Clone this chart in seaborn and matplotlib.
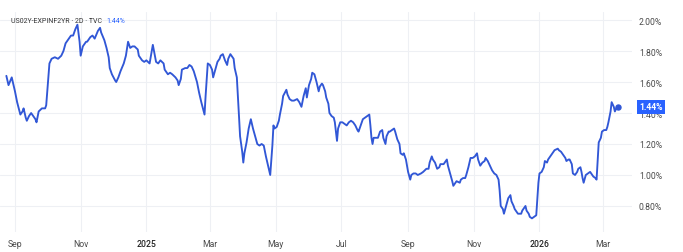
import matplotlib
matplotlib.use("Agg")
import pandas as pd
import matplotlib.pyplot as plt
import matplotlib.transforms as mtransforms
import seaborn as sns

# ---------------- data ----------------
start_date = "2024-09-01"
day_offsets = [
    -8, -6, -3, 0, 2, 5, 7, 8, 10, 11, 13, 15, 17, 19, 20, 22, 25, 28, 29, 32,
    34, 37, 40, 43, 45, 47, 49, 52, 54, 56, 58, 60, 61, 63, 66, 67, 70, 72, 74, 77,
    79, 80, 83, 85, 87, 88, 90, 93, 94, 96, 98, 101, 103, 105, 107, 109, 111, 114, 115, 118,
    120, 122, 125, 127, 128, 131, 133, 135, 138, 139, 142, 144, 146, 149, 151, 152, 154, 155, 158, 160,
    162, 164, 166, 169, 171, 173, 176, 177, 179, 181, 183, 184, 186, 188, 190, 191, 193, 195, 197, 198,
    200, 201, 203, 204, 206, 207, 208, 209, 211, 212, 213, 215, 217, 219, 221, 223, 225, 227, 229, 231,
    233, 235, 237, 239, 240, 241, 243, 245, 246, 248, 249, 252, 253, 255, 257, 259, 262, 264, 266, 268,
    270, 271, 273, 275, 276, 278, 280, 282, 283, 285, 286, 288, 289, 291, 292, 294, 296, 297, 298, 299,
    300, 302, 304, 306, 308, 310, 312, 314, 316, 318, 319, 321, 323, 325, 327, 329, 330, 331, 332, 333,
    335, 337, 339, 341, 342, 344, 345, 347, 348, 350, 352, 353, 355, 357, 358, 360, 361, 363, 364, 365,
    367, 368, 370, 372, 374, 377, 379, 382, 384, 385, 387, 388, 390, 392, 394, 395, 398, 399, 401, 402,
    404, 406, 407, 409, 410, 413, 414, 416, 418, 419, 421, 423, 425, 427, 429, 430, 432, 434, 436, 437,
    439, 441, 443, 445, 447, 449, 450, 451, 453, 454, 456, 458, 460, 461, 463, 464, 466, 467, 470, 471,
    474, 475, 477, 478, 480, 482, 484, 485, 486, 487, 489, 491, 492, 494, 495, 497, 499, 501, 504, 505,
    507, 509, 511, 512, 514, 515, 517, 518, 520, 522, 523, 525, 526, 527, 528, 530, 532, 534, 535, 537,
    539, 540, 541, 542, 544, 545, 547, 549, 550, 551, 553, 554, 556, 557, 559, 560,
]
yield_pct = [
    1.64, 1.58, 1.63, 1.54, 1.47, 1.39, 1.41, 1.43, 1.37, 1.35, 1.38, 1.40, 1.38, 1.36, 1.34, 1.41, 1.43, 1.43, 1.45, 1.72,
    1.75, 1.76, 1.75, 1.77, 1.80, 1.85, 1.87, 1.90, 1.90, 1.94, 1.97, 1.86, 1.77, 1.83, 1.86, 1.86, 1.89, 1.90, 1.88, 1.93,
    1.95, 1.92, 1.87, 1.82, 1.76, 1.69, 1.65, 1.61, 1.60, 1.63, 1.67, 1.72, 1.77, 1.86, 1.82, 1.83, 1.83, 1.81, 1.77, 1.74,
    1.73, 1.74, 1.72, 1.80, 1.84, 1.73, 1.72, 1.74, 1.72, 1.68, 1.65, 1.66, 1.65, 1.63, 1.61, 1.58, 1.62, 1.68, 1.69, 1.69,
    1.71, 1.70, 1.67, 1.60, 1.53, 1.47, 1.39, 1.51, 1.72, 1.71, 1.68, 1.63, 1.68, 1.73, 1.75, 1.77, 1.78, 1.74, 1.71, 1.75,
    1.78, 1.77, 1.75, 1.69, 1.63, 1.51, 1.38, 1.25, 1.15, 1.08, 1.14, 1.21, 1.30, 1.36, 1.30, 1.25, 1.20, 1.19, 1.20, 1.19,
    1.12, 1.06, 1.00, 1.19, 1.32, 1.30, 1.31, 1.35, 1.39, 1.46, 1.51, 1.55, 1.52, 1.49, 1.48, 1.48, 1.49, 1.47, 1.44, 1.51,
    1.56, 1.50, 1.58, 1.62, 1.66, 1.65, 1.60, 1.54, 1.57, 1.59, 1.58, 1.54, 1.50, 1.46, 1.40, 1.38, 1.37, 1.34, 1.28, 1.22,
    1.30, 1.34, 1.34, 1.33, 1.32, 1.34, 1.35, 1.34, 1.32, 1.29, 1.28, 1.32, 1.36, 1.37, 1.38, 1.39, 1.32, 1.24, 1.20, 1.24,
    1.24, 1.24, 1.28, 1.29, 1.24, 1.20, 1.25, 1.28, 1.28, 1.29, 1.30, 1.28, 1.23, 1.20, 1.14, 1.13, 1.14, 1.10, 1.06, 1.02,
    0.97, 1.00, 1.01, 1.01, 1.00, 1.01, 1.02, 1.04, 1.04, 1.08, 1.12, 1.10, 1.08, 1.04, 1.05, 1.07, 1.07, 1.08, 1.10, 1.06,
    1.01, 0.96, 0.93, 0.95, 0.96, 0.95, 0.97, 0.98, 0.98, 1.00, 1.05, 1.11, 1.11, 1.12, 1.14, 1.10, 1.06, 1.08, 1.09, 1.11,
    1.09, 1.06, 1.03, 1.01, 1.00, 0.97, 0.90, 0.80, 0.78, 0.75, 0.80, 0.85, 0.87, 0.83, 0.80, 0.78, 0.76, 0.75, 0.75, 0.77,
    0.80, 0.77, 0.75, 0.73, 0.72, 0.73, 0.74, 0.85, 0.95, 1.01, 1.02, 1.05, 1.09, 1.08, 1.10, 1.12, 1.14, 1.16, 1.17, 1.16,
    1.15, 1.13, 1.11, 1.09, 1.10, 1.10, 1.07, 1.01, 1.00, 1.02, 1.04, 1.05, 1.02, 0.98, 0.95, 1.00, 1.01, 1.02, 1.01, 0.99,
    0.98, 0.97, 1.09, 1.21, 1.24, 1.28, 1.29, 1.29, 1.31, 1.34, 1.41, 1.47, 1.44, 1.41, 1.44, 1.44,
]
tick_dates = ["2024-09-01", "2024-11-01", "2025-01-01", "2025-03-01", "2025-05-01",
              "2025-07-01", "2025-09-01", "2025-11-01", "2026-01-01", "2026-03-01"]
tick_labels = ["Sep", "Nov", "2025", "Mar", "May", "Jul", "Sep", "Nov", "2026", "Mar"]
ytick_values = [0.80, 1.00, 1.20, 1.40, 1.60, 1.80, 2.00]
title_main = "US02Y-EXPINF2YR · 2D · TVC"

# ---------------- styling ----------------
LINE = "#3157d6"
BOX = "#2962ff"
GRID = "#eef0f4"
TXT = "#4a4a4a"

df = pd.DataFrame({
    "date": pd.Timestamp(start_date) + pd.to_timedelta(day_offsets, unit="D"),
    "value": yield_pct,
})

sns.set_theme(style="white")
plt.rcParams["font.family"] = ["Roboto", "DejaVu Sans"]

W, H = 683, 253
fig = plt.figure(figsize=(W / 100, H / 100), dpi=100)
fig.patch.set_facecolor("white")
ax_left, ax_right, ax_top, ax_bottom = 0, 632, 13, 233
ax = fig.add_axes([ax_left / W, 1 - ax_bottom / H, (ax_right - ax_left) / W, (ax_bottom - ax_top) / H])

sns.lineplot(data=df, x="date", y="value", ax=ax, color=LINE, linewidth=1.35)
ax.plot(df["date"].iloc[-1], df["value"].iloc[-1], "o", ms=3.6, color=LINE, zorder=4)

t0 = pd.Timestamp(start_date)
ax.set_xlim(t0 + pd.Timedelta(days=-13.9), t0 + pd.Timedelta(days=572.9))
ax.set_ylim(0.632, 2.052)

ax.set_xticks(pd.to_datetime(tick_dates))
ax.set_xticklabels(tick_labels)
ax.set_yticks(ytick_values)
ax.set_yticklabels([f"{v:.2f}%" for v in ytick_values])
ax.yaxis.tick_right()
ax.tick_params(axis="x", length=0, pad=5, labelsize=6.2, labelcolor=TXT)
ax.tick_params(axis="y", length=0, pad=5, labelsize=6.2, labelcolor=TXT)
for lab in ax.get_xticklabels():
    if lab.get_text().isdigit():
        lab.set_color("#222222")
        lab.set_fontweight("medium")
ax.set_xlabel("")
ax.set_ylabel("")
ax.grid(True, color=GRID, linewidth=0.8)
ax.set_axisbelow(True)
for s in ax.spines.values():
    s.set_visible(False)

# last-value label on the price scale
last_val = df["value"].iloc[-1]
trans = mtransforms.blended_transform_factory(ax.transAxes, ax.transData)
ax.annotate(f"{last_val:.2f}%", xy=(1.0, last_val), xycoords=trans,
            xytext=(5.3, 0), textcoords="offset points",
            ha="left", va="center", fontsize=6.2, color="white", fontweight="bold",
            bbox=dict(boxstyle="square,pad=0.3", fc=BOX, ec="none"),
            annotation_clip=False, zorder=10)

# header legend
t1 = fig.text(11 / W, 1 - 22 / H, title_main, fontsize=5.0, color="#333333", va="center", ha="left")
ax.annotate(f"{last_val:.2f}%", xy=(1, 0.5), xycoords=t1, xytext=(3, 0), textcoords="offset points",
            va="center", ha="left", fontsize=5.0, color=BOX, annotation_clip=False)

fig.savefig("out.png", dpi=100, facecolor="white")
